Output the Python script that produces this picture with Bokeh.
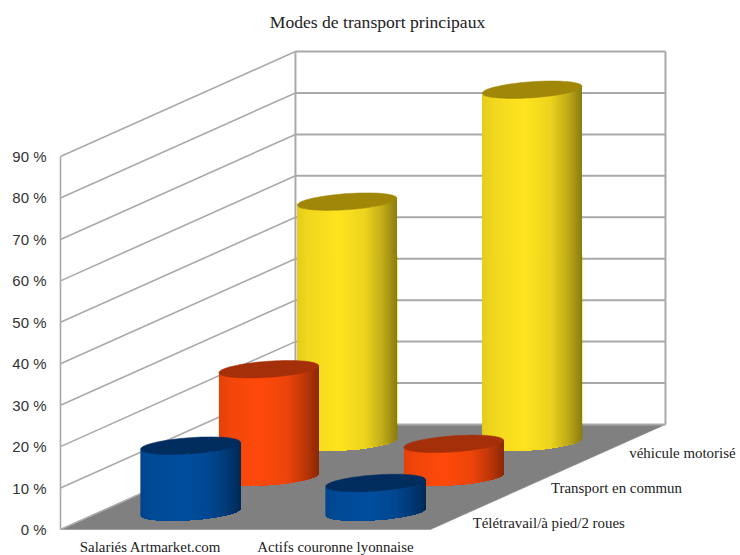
import numpy as np
from bokeh.core.properties import value
from bokeh.embed import file_html
from bokeh.models import FixedTicker, Range1d
from bokeh.plotting import figure
from bokeh.resources import INLINE

# Chart content
TITLE = "Modes de transport principaux"
CATEGORIES = ["Salariés Artmarket.com", "Actifs couronne lyonnaise"]
SERIES = ["Télétravail/à pied/2 roues", "Transport en commun", "véhicule motorisé"]
TELETRAVAIL = [16, 7]
TRANSPORT = [26, 8]
VEHICULE = [58, 85]
TICKS = [0, 10, 20, 30, 40, 50, 60, 70, 80, 90]
TICK_LABELS = ["0 %", "10 %", "20 %", "30 %", "40 %", "50 %", "60 %", "70 %", "80 %", "90 %"]

# Body colour and top colour of each series
BODY = [(0, 78, 158), (255, 74, 12), (255, 228, 32)]
TOP = ["#002d5e", "#a52f08", "#a08708"]

# Oblique projection: one unit of depth shifts a point along both data axes
DEPTH_X = 1.27
DEPTH_Y = 25.34
RADIUS_CAT = 0.248
RADIUS_DEPTH = 0.25 / len(SERIES)
CAT_CENTRE = 0.491
GREY = "#a9a9a9"


def project(cat, depth, val):
    return cat + depth * DEPTH_X, val + depth * DEPTH_Y


def disc_point(t, cat, depth, val):
    return project(cat + RADIUS_CAT * np.cos(t), depth + RADIUS_DEPTH * np.sin(t), val)


def shade(rgb, f):
    k = np.interp(f, [0, 0.12, 0.42, 0.68, 0.85, 1], [0.9, 0.95, 1, 0.93, 0.76, 0.55])
    return "#%02x%02x%02x" % tuple(int(c * k) for c in rgb)


p = figure(
    width=740, height=555, output_backend="svg", toolbar_location=None,
    x_range=Range1d(0, 680 / 185), y_range=Range1d(-26 / 4.144, 529 / 4.144),
    x_axis_location=None, min_border_left=60, min_border_right=0,
    min_border_top=0, min_border_bottom=0, outline_line_color=None,
    background_fill_color="white", border_fill_color="white",
)
p.grid.visible = False

ncat = len(CATEGORIES)

# Floor of the box
fx, fy = zip(*[project(c, d, 0) for c, d in [(0, 0), (0, 1), (ncat, 1), (ncat, 0)]])
p.patch(list(fx), list(fy), fill_color="#808080", line_color="#808080", line_width=0.5)

# Gridlines on the side wall and the back wall
for v in TICKS:
    x0, y0 = project(0, 0, v)
    x1, y1 = project(0, 1, v)
    x2, y2 = project(ncat, 1, v)
    p.line([x0, x1], [y0, y1], line_color=GREY, line_width=1.6)
    p.line([x1, x2], [y1, y2], line_color=GREY, line_width=2)
for c in (0, ncat):
    x0, y0 = project(c, 1, 0)
    x1, y1 = project(c, 1, TICKS[-1])
    p.line([x0, x1], [y0, y1], line_color=GREY, line_width=2)

# Cylinders, drawn from the back row to the front row
rows = [TELETRAVAIL, TRANSPORT, VEHICULE]
t0 = np.arctan2(RADIUS_DEPTH * DEPTH_X, RADIUS_CAT)
for s in reversed(range(len(SERIES))):
    depth = (s + 0.5) / len(SERIES)
    for c in range(ncat):
        val = rows[s][c]
        cat = c + CAT_CENTRE
        ts = np.linspace(t0 + np.pi, t0 + 2 * np.pi, 61)
        bx, by = disc_point(ts, cat, depth, 0)
        tx, ty = disc_point(ts, cat, depth, val)
        xs, ys, colors = [], [], []
        xmin, xmax = bx.min(), bx.max()
        # Each shaded slice runs on to the right edge so that no seams show between slices
        for i in range(len(ts) - 1):
            xs.append(list(bx[i:]) + list(tx[i:][::-1]))
            ys.append(list(by[i:]) + list(ty[i:][::-1]))
            colors.append(shade(BODY[s], ((bx[i] + bx[i + 1]) / 2 - xmin) / (xmax - xmin)))
        p.patches(xs, ys, fill_color=colors, line_color=None)
        ring = np.linspace(0, 2 * np.pi, 90)
        ex, ey = disc_point(ring, cat, depth, val)
        p.patch(ex, ey, fill_color=TOP[s], line_color=TOP[s], line_width=0.5)

# Category names under the front edge
cat_x, cat_y = [], []
for c in range(ncat):
    x, y = project(c + 0.5, 0, 0)
    cat_x.append(x)
    cat_y.append(y)
p.text(cat_x, cat_y, text=CATEGORIES, text_align="center", text_baseline="middle",
       y_offset=17, x_offset=-2.5, text_font=value("Liberation Serif"), text_font_size="14.9px",
       text_color="#222222")

# Series names along the right edge of the floor
ser_x, ser_y = [], []
for s in range(len(SERIES)):
    x, y = project(ncat, (s + 0.5) / len(SERIES), 0)
    ser_x.append(x)
    ser_y.append(y)
p.text(ser_x, ser_y, text=SERIES, text_align="left", text_baseline="middle",
       x_offset=3, y_offset=11, text_font=value("Liberation Serif"), text_font_size="14.9px",
       text_color="#222222")

# Chart title
p.text([317 / 185], [508 / 4.144], text=[TITLE], text_align="center", text_baseline="middle",
       text_font=value("Liberation Serif"), text_font_size="17.6px", text_color="#222222")

# Value axis on the front edge of the side wall
ax = p.yaxis[0]
ax.ticker = FixedTicker(ticks=TICKS)
ax.major_label_overrides = dict(zip(TICKS, TICK_LABELS))
ax.bounds = (TICKS[0], TICKS[-1])
ax.axis_line_color = GREY
ax.axis_line_width = 1.6
ax.major_tick_line_color = None
ax.minor_tick_line_color = None
ax.major_tick_in = 0
ax.major_tick_out = 0
ax.major_label_standoff = 14
ax.major_label_text_font = "Liberation Sans"
ax.major_label_text_font_size = "15px"
ax.major_label_text_color = "#333333"

open("out.html", "w").write(file_html(p, INLINE))
